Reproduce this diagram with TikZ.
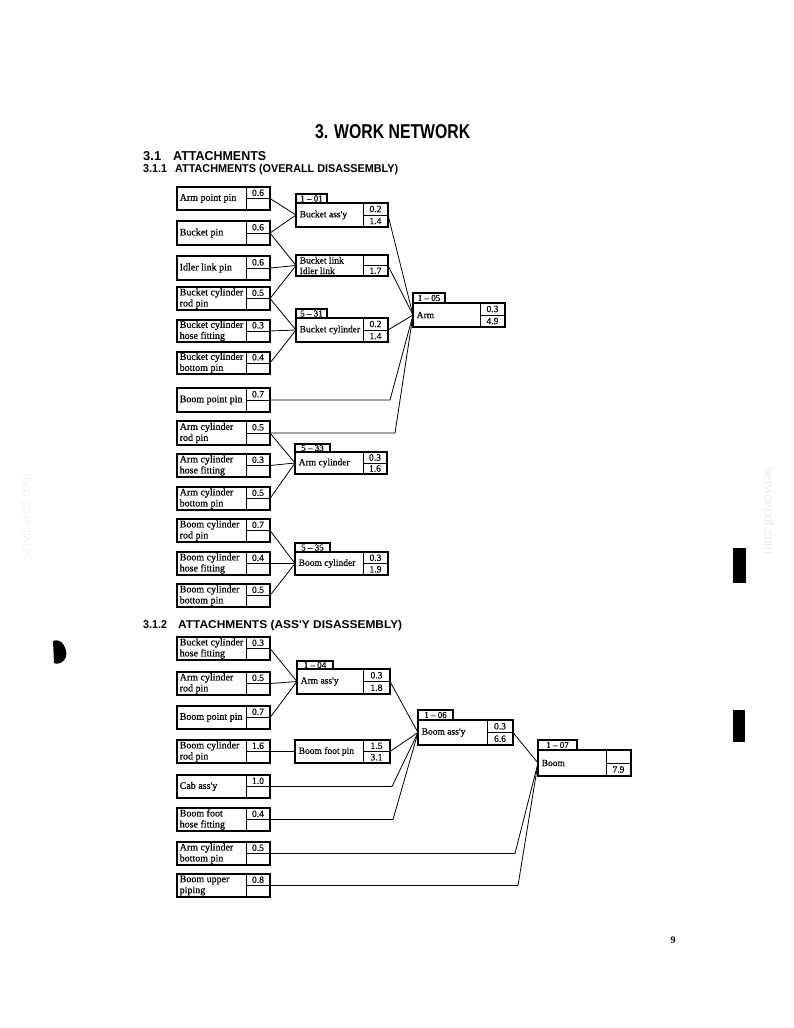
\documentclass[tikz,border=0pt]{standalone}
\usepackage{fontspec}
\usepackage{graphicx}
\setmainfont{Liberation Serif}
\newfontfamily\boxfont[FakeBold=0.5]{Liberation Serif}
\newfontfamily\hdfont{Liberation Sans}
\tikzset{
  box/.style={draw, line width=1.1pt, inner sep=0pt, outer sep=0pt},
  con/.style={line width=0.8pt},
  txt/.style={font=\boxfont\fontsize{10}{11}\selectfont, align=left, inner sep=0pt, anchor=west},
  atxt/.style={font=\boxfont\fontsize{9.5}{10.5}\selectfont, align=left, inner sep=0pt, anchor=west},
  num/.style={font=\boxfont\fontsize{9.5}{10}\selectfont, inner sep=0pt},
  tagf/.style={font=\boxfont\fontsize{9}{9}\selectfont},
  hd/.style={anchor=base west, inner sep=0pt},
  divl/.style={line width=0.9pt}
}
\newcommand\mkleaf[5]{%
  \node[box, minimum width=93pt, minimum height={(#3-#2)*1pt}] (#1) at (223.5,{(#2+#3)/2}) {};
  \draw[divl] (246,#2) -- (246,#3) (246,{(#2+#3)/2}) -- (270,{(#2+#3)/2});
  \node[txt] at (179.5,{(#2+#3)/2}) {#4};
  \node[num] at (258,{(#2+#3)/2-5.7}) {#5};
}
\newcommand\mkasm[9]{%
  \node[box, minimum width={(#3-#2)*1pt}, minimum height={(#5-#4)*1pt}] (#1) at ({(#2+#3)/2},{(#4+#5)/2}) {};
  \draw[divl] (#6,#4) -- (#6,#5) (#6,{(#4+#5)/2}) -- (#3,{(#4+#5)/2});
  \node[atxt] at ({#2+3.5},{(#4+#5)/2}) {#7};
  \node[num] at ({(#6+#3)/2},{(#4*3+#5)/4}) {#8};
  \node[num] at ({(#6+#3)/2},{(#4+#5*3)/4}) {#9};
}
\newcommand\mktag[6]{%
  \node[box, minimum width={(#3-#2)*1pt}, minimum height={(#5-#4)*1pt}, tagf] (#1) at ({(#2+#3)/2},{(#4+#5)/2}) {#6};
}
\begin{document}
\begin{tikzpicture}[x=1pt,y=-1pt]
\fill[white] (0,0) rectangle (794,1028);
\useasboundingbox (0,0) rectangle (794,1028);

% headings
\node[hd] (h0) at (315,138) {\resizebox{155pt}{14pt}{\hdfont\bfseries 3. WORK NETWORK}};
\node[hd] (h1n) at (143,160) {\resizebox{18pt}{9pt}{\hdfont\bfseries 3.1}};
\node[hd] (h1) at (173,160) {\resizebox{93pt}{9pt}{\hdfont\bfseries ATTACHMENTS}};
\node[hd] (h2n) at (143,172) {\resizebox{24pt}{8pt}{\hdfont\bfseries 3.1.1}};
\node[hd] (h2) at (175,172) {\resizebox{223pt}{8.2pt}{\hdfont\bfseries ATTACHMENTS (OVERALL DISASSEMBLY)}};
\node[hd] (h3n) at (143,628) {\resizebox{24pt}{8pt}{\hdfont\bfseries 3.1.2}};
\node[hd] (h3) at (178,628) {\resizebox{224pt}{8.2pt}{\hdfont\bfseries ATTACHMENTS (ASS'Y DISASSEMBLY)}};

% ---------- 3.1.1 leaves
\mkleaf{l1}{187}{210}{Arm point pin}{0.6}
\mkleaf{l2}{221}{245}{Bucket pin}{0.6}
\mkleaf{l3}{256}{280}{Idler link pin}{0.6}
\mkleaf{l4}{287}{310}{Bucket cylinder\\rod pin}{0.5}
\mkleaf{l5}{320}{342}{Bucket cylinder\\hose fitting}{0.3}
\mkleaf{l6}{352}{374}{Bucket cylinder\\bottom pin}{0.4}
\mkleaf{l7}{388}{412}{Boom point pin}{0.7}
\mkleaf{l8}{421}{445}{Arm cylinder\\rod pin}{0.5}
\mkleaf{l9}{454}{477}{Arm cylinder\\hose fitting}{0.3}
\mkleaf{l10}{487}{510}{Arm cylinder\\bottom pin}{0.5}
\mkleaf{l11}{519}{542}{Boom cylinder\\rod pin}{0.7}
\mkleaf{l12}{552}{575}{Boom cylinder\\hose fitting}{0.4}
\mkleaf{l13}{584}{607}{Boom cylinder\\bottom pin}{0.5}

% ---------- 3.1.1 assemblies
\mktag{bass-t}{296}{327}{194}{203}{1 \textendash\ 01}
\mkasm{bass}{296}{388}{203}{227}{363}{Bucket ass'y}{0.2}{1.4}
\mkasm{blink}{296}{388}{255}{276}{363}{Bucket link\\Idler link}{}{1.7}
\mktag{bcyl-t}{296}{327}{309}{318}{5 \textendash\ 31}
\mkasm{bcyl}{296}{388}{318}{342}{363}{Bucket cylinder}{0.2}{1.4}
\mktag{arm-t}{413}{445}{293}{303}{1 \textendash\ 05}
\mkasm{arm}{413}{505}{303}{327}{480}{Arm}{0.3}{4.9}
\mktag{acyl-t}{295}{330}{444}{452}{5 \textendash\ 33}
\mkasm{acyl}{295}{387}{452}{474}{363}{Arm cylinder}{0.3}{1.6}
\mktag{bmcyl-t}{295}{330}{543}{552}{5 \textendash\ 35}
\mkasm{bmcyl}{295}{388}{552}{575}{363}{Boom cylinder}{0.3}{1.9}

\coordinate (c7) at (390,400);
\coordinate (c8) at (395,433);

\draw[con] (l1.east) -- (bass.west);
\draw[con] (l2.east) -- (bass.west);
\draw[con] (l2.east) -- (blink.west);
\draw[con] (l3.east) -- (blink.west);
\draw[con] (l4.east) -- (blink.west);
\draw[con] (l4.east) -- (bcyl.west);
\draw[con] (l5.east) -- (bcyl.west);
\draw[con] (l6.east) -- (bcyl.west);
\draw[con] (bass.east) -- (arm.west);
\draw[con] (blink.east) -- (arm.west);
\draw[con] (bcyl.east) -- (arm.west);
\draw[con] (l7.east) -- (c7) -- (arm.west);
\draw[con] (l8.east) -- (c8) -- (arm.west);
\draw[con] (l8.east) -- (acyl.west);
\draw[con] (l9.east) -- (acyl.west);
\draw[con] (l10.east) -- (acyl.west);
\draw[con] (l11.east) -- (bmcyl.west);
\draw[con] (l12.east) -- (bmcyl.west);
\draw[con] (l13.east) -- (bmcyl.west);

% ---------- 3.1.2 leaves
\mkleaf{m1}{637}{660}{Bucket cylinder\\hose fitting}{0.3}
\mkleaf{m2}{672}{695}{Arm cylinder\\rod pin}{0.5}
\mkleaf{m3}{706}{729}{Boom point pin}{0.7}
\mkleaf{m4}{740}{763}{Boom cylinder\\rod pin}{1.6}
\mkleaf{m5}{775}{798}{Cab ass'y}{1.0}
\mkleaf{m6}{808}{831}{Boom foot\\hose fitting}{0.4}
\mkleaf{m7}{842}{865}{Arm cylinder\\bottom pin}{0.5}
\mkleaf{m8}{874}{897}{Boom upper\\piping}{0.8}

% ---------- 3.1.2 assemblies
\mktag{aass-t}{297}{333}{661}{669}{1 \textendash\ 04}
\mkasm{aass}{297}{390}{669}{694}{363}{Arm ass'y}{0.3}{1.8}
\mkasm{bfp}{295}{390}{740}{763}{363}{Boom foot pin}{1.5}{3.1}
\mktag{bmass-t}{418}{453}{710}{720}{1 \textendash\ 06}
\mkasm{bmass}{418}{513}{720}{745}{487}{Boom ass'y}{0.3}{6.6}
\mktag{boom-t}{538}{577}{740}{750}{1 \textendash\ 07}
\mkasm{boom}{538}{631}{750}{776}{606}{Boom}{}{7.9}

\coordinate (c5) at (392,786.5);
\coordinate (c6) at (393,819.5);
\coordinate (c7b) at (515,853.5);
\coordinate (c8b) at (518,885.5);

\draw[con] (m1.east) -- (aass.west);
\draw[con] (m2.east) -- (aass.west);
\draw[con] (m3.east) -- (aass.west);
\draw[con] (m4.east) -- (bfp.west);
\draw[con] (aass.east) -- (bmass.west);
\draw[con] (bfp.east) -- (bmass.west);
\draw[con] (m5.east) -- (c5) -- (bmass.west);
\draw[con] (m6.east) -- (c6) -- (bmass.west);
\draw[con] (bmass.east) -- (boom.west);
\draw[con] (m7.east) -- (c7b) -- (boom.west);
\draw[con] (m8.east) -- (c8b) -- (boom.west);

% page number
\node[font=\fontsize{10}{10}\selectfont\bfseries, inner sep=0pt] (pg) at (673,940) {9};

% margin marks
\fill (733,548) rectangle (746,583);
\fill (733,710) rectangle (745,742);
\fill (53,641) .. controls (62,637) and (68,650) .. (66,657) .. controls (64,663) and (57,665) .. (54,663) -- cycle;

% watermarks
\node[text=black!8, rotate=-90, font=\hdfont\fontsize{13}{13}\selectfont, inner sep=0pt] (wm1) at (768,511) {servicepdf.com};
\node[text=black!5, rotate=90, font=\hdfont\fontsize{13}{13}\selectfont, inner sep=0pt] (wm2) at (27,517) {servicepdf.com};
\end{tikzpicture}
\end{document}
